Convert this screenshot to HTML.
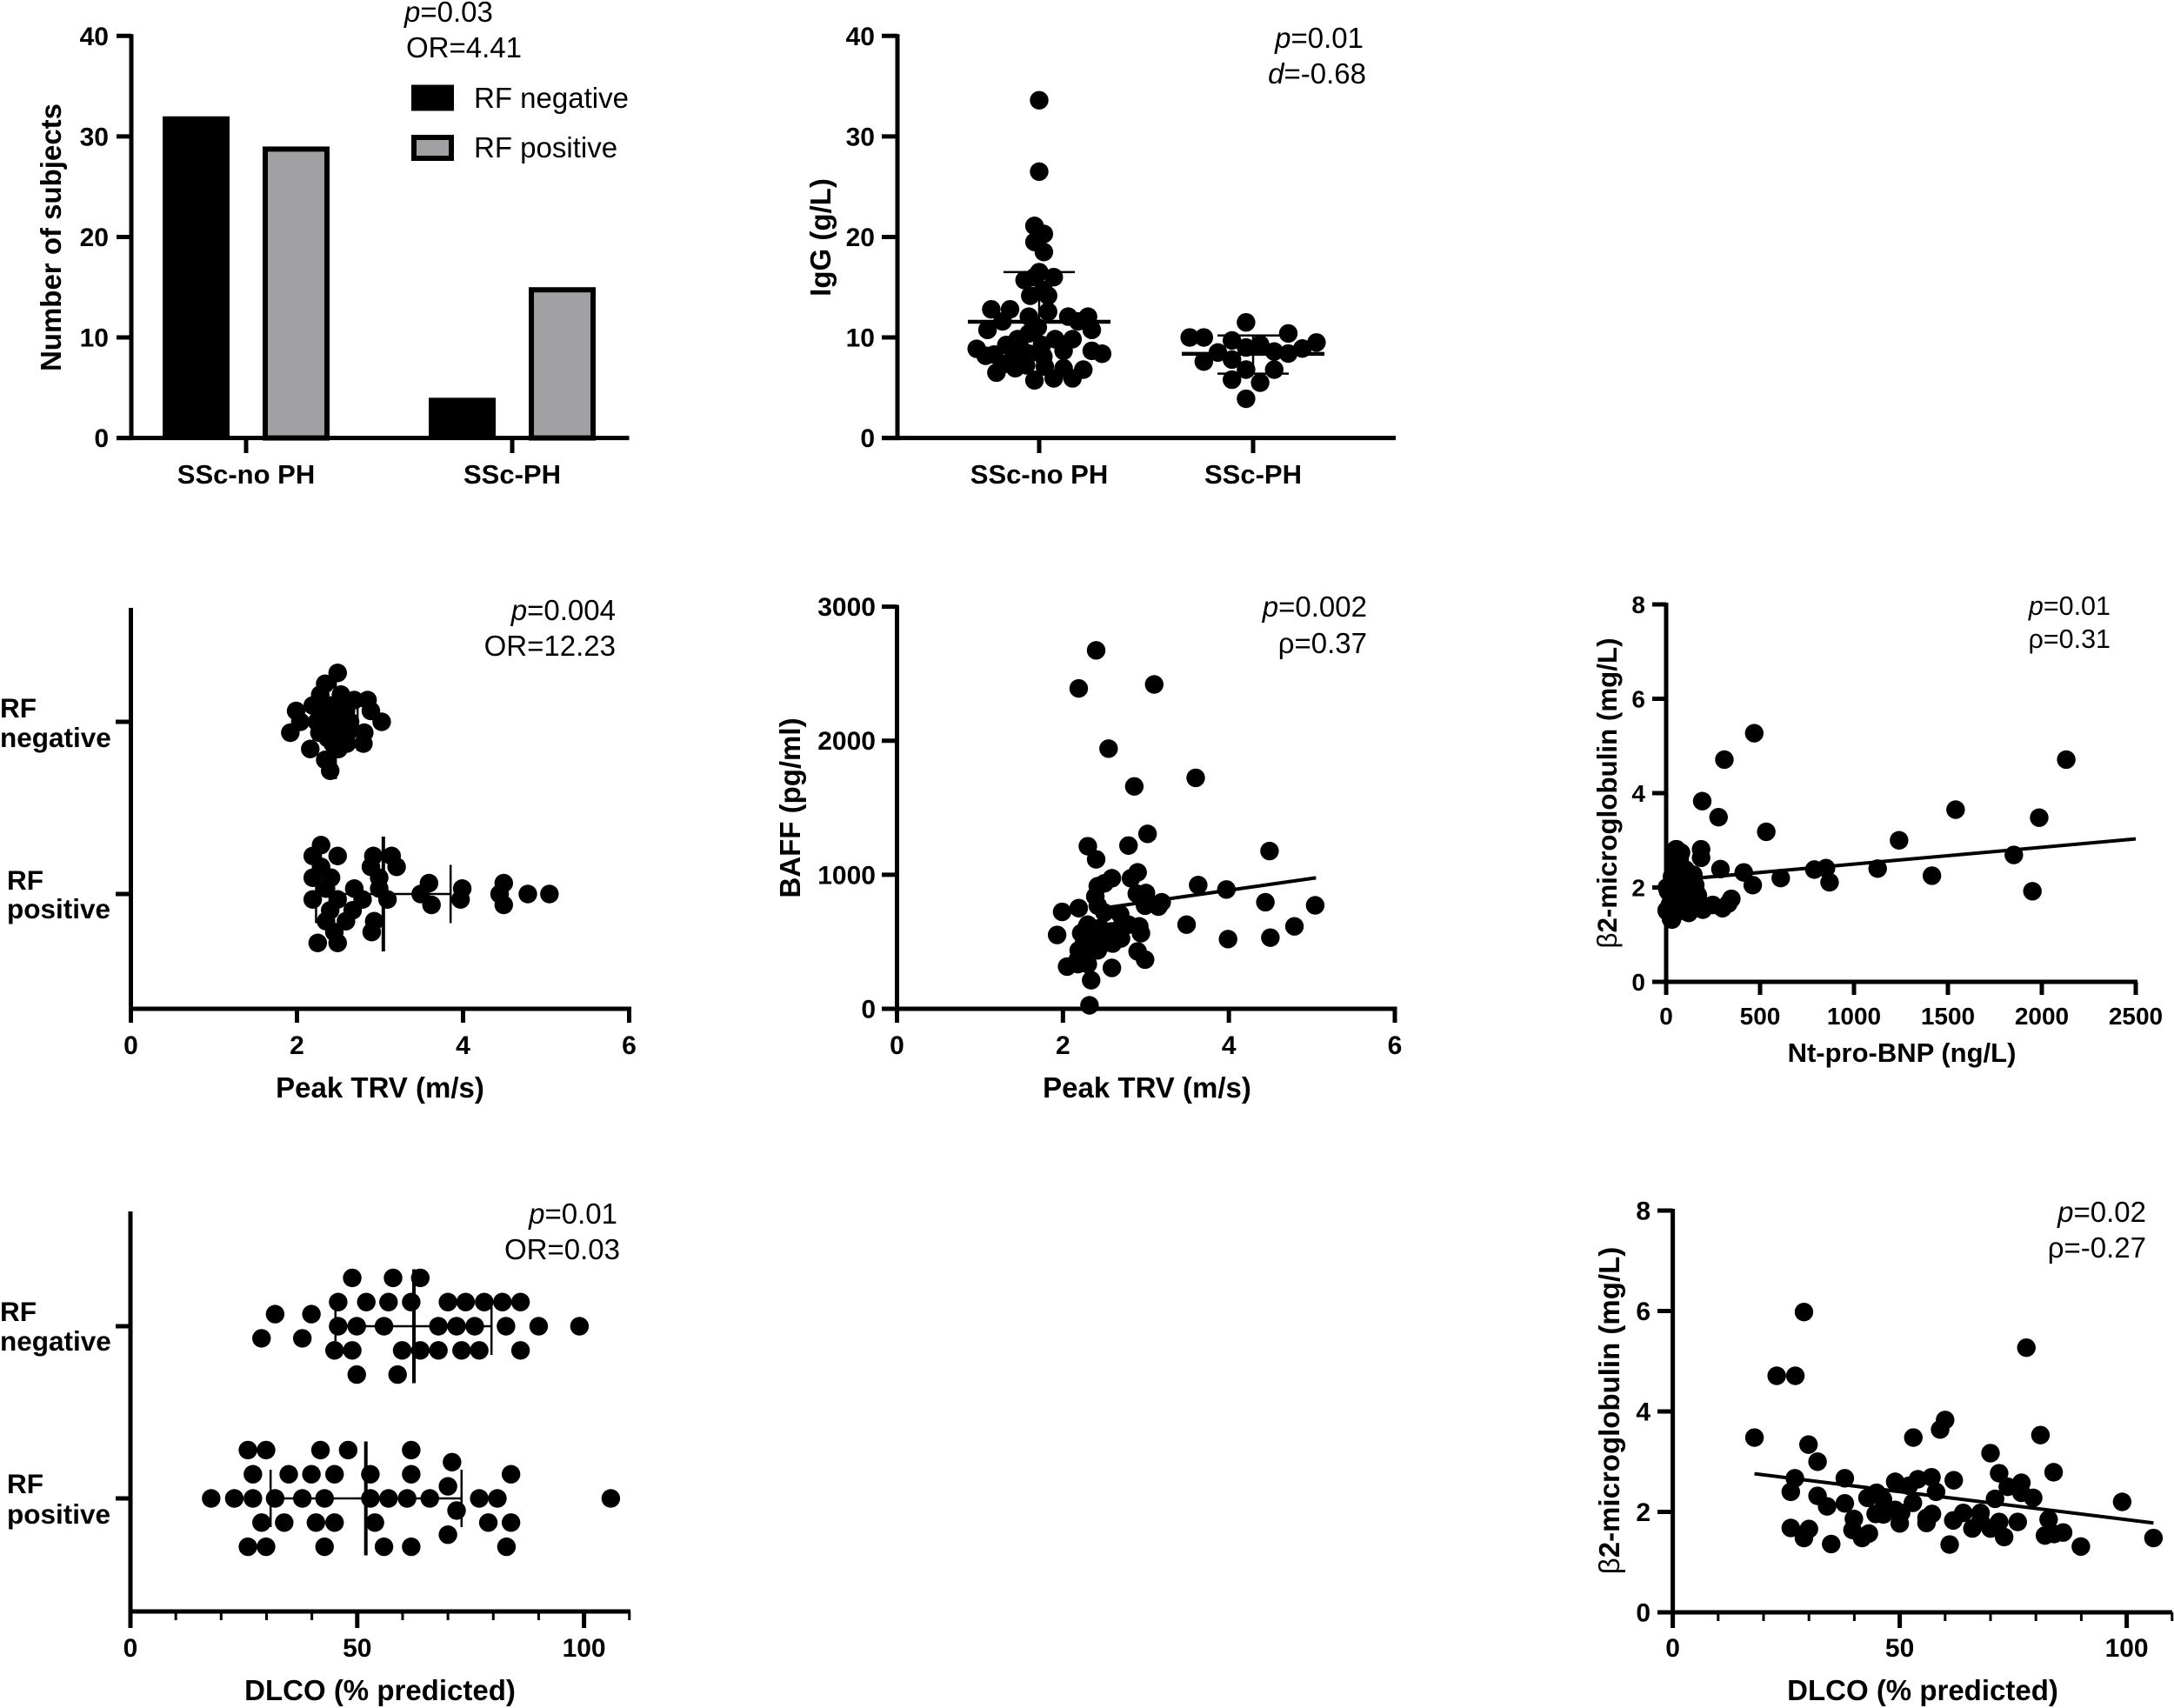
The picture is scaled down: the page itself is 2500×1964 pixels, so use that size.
<!DOCTYPE html>
<html lang="en">
<head>
<meta charset="utf-8">
<title>RF and SSc-PH figure</title>
<style>
html,body{margin:0;padding:0;background:#fff;}
svg{display:block;font-family:"Liberation Sans",Arial,sans-serif;fill:#000;}
.note{font-size:33px;}
.note5{font-size:30.5px;}
.title{font-size:33px;font-weight:bold;}
.cat{font-size:31.5px;font-weight:bold;}
.tick{font-size:30px;font-weight:bold;}
</style>
</head>
<body>
<svg id="figure" xmlns="http://www.w3.org/2000/svg" width="2500" height="1964" viewBox="0 0 2500 1964">
  <g id="static-text">
    <text class="note" x="465" y="25"><tspan font-style="italic">p</tspan>=0.03</text>
    <text class="note" x="467" y="66">OR=4.41</text>
    <text class="note" x="545" y="124">RF negative</text>
    <text class="note" x="545" y="181">RF positive</text>
    <text class="title" transform="translate(70,273) rotate(-90)" text-anchor="middle">Number of subjects</text>

    <text class="note" x="1568" y="55" text-anchor="end"><tspan font-style="italic">p</tspan>=0.01</text>
    <text class="note" x="1571" y="96" text-anchor="end"><tspan font-style="italic">d</tspan>=-0.68</text>
    <text class="title" transform="translate(955,273) rotate(-90)" text-anchor="middle">IgG (g/L)</text>

    <text class="note" x="708" y="713" text-anchor="end"><tspan font-style="italic">p</tspan>=0.004</text>
    <text class="note" x="708" y="754" text-anchor="end">OR=12.23</text>
    <text class="cat" x="0" y="825">RF</text>
    <text class="cat" x="0" y="859">negative</text>
    <text class="cat" x="8" y="1023">RF</text>
    <text class="cat" x="8" y="1056">positive</text>
    <text class="title" x="437" y="1262" text-anchor="middle">Peak TRV (m/s)</text>

    <text class="note" x="1572" y="709" text-anchor="end"><tspan font-style="italic">p</tspan>=0.002</text>
    <text class="note" x="1572" y="751" text-anchor="end">ρ=0.37</text>
    <text class="title" transform="translate(920,929) rotate(-90)" text-anchor="middle">BAFF (pg/ml)</text>
    <text class="title" x="1319" y="1262" text-anchor="middle">Peak TRV (m/s)</text>

    <text class="note5" x="2427" y="707" text-anchor="end"><tspan font-style="italic">p</tspan>=0.01</text>
    <text class="note5" x="2427" y="745" text-anchor="end">ρ=0.31</text>
    <text class="title" style="font-size:31.3px" transform="translate(1859,912) rotate(-90)" text-anchor="middle"><tspan font-weight="normal">β</tspan>2-microglobulin (mg/L)</text>
    <text class="title" style="font-size:31px" x="2187" y="1221" text-anchor="middle">Nt-pro-BNP (ng/L)</text>

    <text class="note" x="710" y="1407" text-anchor="end"><tspan font-style="italic">p</tspan>=0.01</text>
    <text class="note" x="713" y="1448" text-anchor="end">OR=0.03</text>
    <text class="cat" x="0" y="1519">RF</text>
    <text class="cat" x="0" y="1553">negative</text>
    <text class="cat" x="8" y="1717">RF</text>
    <text class="cat" x="8" y="1752">positive</text>
    <text class="title" x="437" y="1955" text-anchor="middle">DLCO (% predicted)</text>

    <text class="note" x="2468" y="1405" text-anchor="end"><tspan font-style="italic">p</tspan>=0.02</text>
    <text class="note" x="2468" y="1446" text-anchor="end">ρ=-0.27</text>
    <text class="title" transform="translate(1862,1622) rotate(-90)" text-anchor="middle"><tspan font-weight="normal">β</tspan>2-microglobulin (mg/L)</text>
    <text class="title" x="2211" y="1955" text-anchor="middle">DLCO (% predicted)</text>
  </g>
</svg>
<script>
// ---------- Panel A: bars ----------
const barCategories = ['SSc-no PH', 'SSc-PH'];
const barNegativeCounts = [32, 4];
const barPositiveCounts = [29, 15];
const barYTicks = [0, 10, 20, 30, 40];

// ---------- Panel B: IgG swarm ----------
const iggCategories = ['SSc-no PH', 'SSc-PH'];
const iggYTicks = [0, 10, 20, 30, 40];
const iggNoPhValues = [33.6,26.5,21.1,20.3,19.5,18.5,16.5,16.0,15.7,16.0,14.15,14.15,14.75,12.8,12.8,12.07,12.56,12.07,12.07,10.75,10.75,8.87,8.18,8.67,8.38,6.5,6.94,6.8,5.73,5.93,5.93,9.25,9.83,10.4,11,8.96,8.38,8.38,8.1,9.25,9.83,9.83,8.67,6.94,7.1,7.23,7.4,8.3,11.6,11.6];
const iggNoPhLanes  = [0,0,-1,1,-1,1,0,3.1,-3.1,-1,-1.9,1.9,0.9,-10.2,-6.2,-2.2,1.9,6.2,10.4,-11,11.2,-13.3,-11.4,11.2,13.4,-9.1,-5.1,9.4,-1,3.1,7.1,-7,-4.6,-2.2,-0.3,-4,-5.2,-2.2,0.9,0.6,3.4,7.1,5.2,5.2,1.2,-2.8,-7.1,-9.6,8.3,-7.8];
const iggPhValues = [11.5,10.4,10,10,9.7,9.5,9.3,8.9,9,8.5,8.6,8.4,7.8,7.6,6.8,6.8,5.8,5.5,3.9];
const iggPhLanes  = [-1.5,7.5,-13.5,-10.5,-4.5,13.5,1.5,10.5,-1.5,-7.5,4.5,7.5,-4.5,-10.5,-1.5,4.5,-4.5,1.5,-1.5];
const iggMeans = [11.56, 8.37];
const iggSdLow = [6.6, 6.4];
const iggSdHigh = [16.5, 10.2];

// ---------- Panel C: Peak TRV swarm ----------
const trvXTicks = [0, 2, 4, 6];
const trvNegValues = [2.49,2.34,2.53,2.28,2.69,2.85,2.19,2.41,1.99,2.89,2.35,2.59,2.04,3.02,2.24,2.43,2.64,2.35,1.92,2.81,2.27,2.49,2.61,2.37,2.6,2.8,2.43,2.16,2.34,2.4,2.46,2.5];
const trvNegLanes  = [-9,-7,-5,-5,-4,-4,-3,-3,-2,-2,-2,-2,0,0,0,0,0,-1,2,2,2,2,2,3,4,4,4,5,7,9,-2,5];
const trvPosValues = [2.29,2.19,2.49,2.92,3.14,2.29,2.89,3.2,2.19,2.41,2.99,3.59,2.35,2.69,2.99,3.99,4.49,2.19,2.49,2.79,3.09,3.49,3.97,4.44,4.78,5.04,3.62,4.49,2.4,2.67,2.35,2.59,2.93,2.45,2.9,2.25,2.49];
const trvPosLanes  = [-9,-7,-7,-7,-7,-5,-5,-5,-3,-3,-3,-2,-1,-1,-1,-1,-2,1,1,1,1,0,1,0,0,0,2,2,3,3,5,5,5,7,7,9,9];
const trvMeans = [2.46, 3.04];
const trvSdLow = [2.2, 2.23];
const trvSdHigh = [2.73, 3.85];

// ---------- Panel D: BAFF vs TRV ----------
const baffXTicks = [0, 2, 4, 6];
const baffYTicks = [0, 1000, 2000, 3000];
const baffTrv = [2.40,2.19,3.10,2.55,3.6,2.86,3.02,2.3,2.79,2.4,4.49,2.9,2.59,2.82,2.5,2.42,2.39,3,2.89,3.63,3.97,3.19,3.15,2.99,2.42,1.99,2.19,2.5,2.69,4.44,5.04,3.49,4.79,3.99,4.5,1.93,2.92,2.94,2.79,2.3,2.22,2.34,2.45,2.58,2.69,2.7,2.6,2.47,2.42,2.19,2.31,2.9,2.99,2.05,2.18,2.3,2.26,2.59,2.34,2.32,2.256,2.395,2.53,2.675,2.29,2.6,2.22,2.36,2.29,2.18,2.46,2.256];
const baffValues = [2674,2390,2420,1941,1723,1659,1305,1213,1218,1115,1177,1018,974,974,936,915,838,864,859,923,890,795,762,769,769,723,751,718,705,795,772,628,615,520,531,551,615,564,628,628,564,538,603,577,603,525,487,525,436,436,474,428,367,315,333,333,410,305,213,26,563,563,563,563,616,497,443,433,346,368,476,497];
const baffFitX = [2.55, 5.05];
const baffFitY = [757, 977];

// ---------- Panel E: b2m vs NT-proBNP ----------
const bnpXTicks = [0, 500, 1000, 1500, 2000, 2500];
const bnpYTicks = [0, 2, 4, 6, 8];
const bnpValues = [469,310,2130,192,279,533,1541,1986,1240,1851,186,186,289,413,789,851,1126,1415,610,461,870,1950,347,331,300,248,196,120,169,155,145,52,79,52,72,48,103,4,31,4,31,52,83,124,103,62,124,83,41,145,72,31,21,55,72,65,134,150,165,10,72,3,26,119,72,134,103,42,195];
const bnpB2m = [5.27,4.71,4.71,3.83,3.49,3.18,3.65,3.48,3.0,2.69,2.81,2.63,2.39,2.32,2.38,2.41,2.4,2.25,2.2,2.05,2.11,1.92,1.76,1.66,1.56,1.63,1.54,1.46,1.83,2.05,2.27,2.81,2.74,2.63,2.52,2.38,2.38,2.0,1.9,1.5,1.32,1.46,1.65,1.72,1.94,2.08,2.16,2.23,1.72,1.87,1.87,2.23,1.65,2.81,2.62,2.38,2.23,2.04,1.86,1.92,1.89,1.52,1.33,1.52,1.64,1.77,2.07,2.13,1.53];
const bnpFitX = [0, 2500];
const bnpFitY = [2.14, 3.03];

// ---------- Panel F: DLCO swarm ----------
const dlcoXTicks = [0, 50, 100];
const dlcoMinorTicks = [10, 20, 30, 40, 60, 70, 80, 90, 110];
const dlcoNegValues = [48.9,57.9,63.9,45.8,52,56.9,61.9,70,73.9,78,82,86,31.9,39.9,45.8,49.9,55.9,67.9,71.9,75.9,82.8,90,99,28.9,37.9,45,48.9,59.9,63.9,67.9,73,76.9,86,49.9,58.9];
const dlcoNegLanes  = [-4,-4,-4,-2,-2,-2,-2,-2,-2,-2,-2,-2,-1,-1,0,0,0,0,0,0,0,0,0,1,1,2,2,2,2,2,2,2,2,4,4];
const dlcoPosValues = [25.9,29.9,41.9,48,61.9,70.9,27,34.9,39.9,45,52.9,61.9,83.9,70,17.8,22.9,27,31.9,37.9,42.8,52.9,56.9,61,66,76.9,80.9,105.9,71.9,28.9,33.9,40.9,45,53.9,78.9,83.9,70,25.9,29.9,42.8,55.9,61.9,82.9];
const dlcoPosLanes  = [-4,-4,-4,-4,-4,-3,-2,-2,-2,-2,-2,-2,-2,-1,0,0,0,0,0,0,0,0,0,0,0,0,0,1,2,2,2,2,2,2,2,3,4,4,4,4,4,4];
const dlcoMeans = [62.5, 51.9];
const dlcoSdLow = [45.2, 30.9];
const dlcoSdHigh = [79.6, 73];

// ---------- Panel G: b2m vs DLCO ----------
const b2mDlcoXTicks = [0, 50, 100];
const b2mDlcoMinorTicks = [10, 20, 30, 40, 60, 70, 80, 90, 110];
const b2mDlcoYTicks = [0, 2, 4, 6, 8];
const b2mDlcoX = [28.9,22.9,27,77.9,18,60,58.9,53,81,29.9,31.9,70,71.9,83.9,26.9,37.9,49,54,57,61.9,52,76.8,73.8,26,44.9,58,31.9,42.9,46.3,71,76.8,79.4,52.9,37.9,34,49,44.7,46.4,50.3,57.1,55.9,64,67.8,61.8,55.9,50,39.9,39.6,67.8,71.9,76,82.8,26,30,66,70,28.9,34.9,41.7,43.2,61,73,82,84,86,89.9,99,105.9];
const b2mDlcoY = [5.98,4.71,4.71,5.27,3.48,3.83,3.64,3.48,3.53,3.34,3.0,3.17,2.77,2.79,2.67,2.67,2.6,2.65,2.69,2.63,2.52,2.58,2.5,2.4,2.38,2.4,2.32,2.28,2.25,2.26,2.38,2.28,2.18,2.17,2.11,2.04,1.96,1.95,1.98,1.96,1.88,1.98,1.98,1.83,1.78,1.77,1.86,1.64,1.82,1.8,1.8,1.85,1.68,1.66,1.67,1.67,1.48,1.36,1.48,1.57,1.35,1.5,1.53,1.56,1.59,1.31,2.2,1.48];
const b2mDlcoFitX = [18, 105.9];
const b2mDlcoFitY = [2.76, 1.78];

// ---------- Drawing helpers ----------
const SVGNS = 'http://www.w3.org/2000/svg';
const root = document.getElementById('figure');
const DOT_R = 10.7;
const AXIS_W = 5;

function linear(d0, d1, r0, r1) {
  return function (v) { return r0 + (v - d0) * (r1 - r0) / (d1 - d0); };
}
function mk(tag, attrs, parent) {
  const el = document.createElementNS(SVGNS, tag);
  Object.keys(attrs).forEach(function (k) { el.setAttribute(k, attrs[k]); });
  (parent || root).appendChild(el);
  return el;
}
function panel(name) {
  const g = mk('g', {});
  
  
  return g;
}
function line(g, x1, y1, x2, y2, w, name) {
  const el = mk('line', { x1: x1, y1: y1, x2: x2, y2: y2, stroke: '#000', 'stroke-width': w }, g);
  
  
  return el;
}
function label(g, x, y, str, anchor, size, name) {
  const el = mk('text', { x: x, y: y, 'text-anchor': anchor, 'font-size': size, 'font-weight': 'bold' }, g);
  el.textContent = str;
  
  
  return el;
}
function dot(g, cx, cy, name) {
  const el = mk('circle', { cx: cx, cy: cy, r: DOT_R, fill: '#000' }, g);
  
  
  return el;
}
function yAxis(g, sx, sy, ticks, leftX, labelX, size, topV) {
  line(g, sx, sy(topV) - 2, sx, sy(0) + 2.5, AXIS_W, 'y-axis-line');
  ticks.forEach(function (t) {
    line(g, leftX, sy(t), sx, sy(t), AXIS_W, 'y-tick-' + t);
    label(g, labelX, sy(t) + size * 0.35, String(t), 'end', size, 'y-tick-label-' + t);
  });
}
function xAxis(g, axisY, left, right, sx, ticks, tickBottom, labelY, size) {
  line(g, left, axisY, right, axisY, AXIS_W, 'x-axis-line');
  ticks.forEach(function (t) {
    line(g, sx(t), axisY, sx(t), tickBottom, AXIS_W, 'x-tick-' + t);
    label(g, sx(t), labelY, String(t), 'middle', size, 'x-tick-label-' + t);
  });
}

// ---------- Panel A ----------
(function () {
  const g = panel('rf-subject-bar-chart');
  const y = linear(0, 40, 503.6, 41.3);
  const GROUP_X = [283, 589];
  const BAR_W = 77;
  const OFFSET = 57.5;
  barCategories.forEach(function (c, i) {
    const n = barNegativeCounts[i];
    const p = barPositiveCounts[i];
    const bn = mk('rect', { x: GROUP_X[i] - OFFSET - BAR_W / 2, y: y(n), width: BAR_W, height: y(0) - y(n), fill: '#000' }, g);
    
    
    const bp = mk('rect', { x: GROUP_X[i] + OFFSET - BAR_W / 2 + 3, y: y(p) + 3, width: BAR_W - 6, height: y(0) - y(p) - 3, fill: '#a1a1a4', stroke: '#000', 'stroke-width': 6 }, g);
    
    
    line(g, GROUP_X[i], 503.6, GROUP_X[i], 521, AXIS_W, 'x-tick-' + i);
    label(g, GROUP_X[i], 556, c, 'middle', 31, 'x-tick-label-' + i);
  });
  yAxis(g, 151, y, barYTicks, 134, 125, 30, 40);
  line(g, 134, 503.6, 723.5, 503.6, AXIS_W, 'x-axis-line');
  const l1 = mk('rect', { x: 473, y: 97.5, width: 49, height: 30, fill: '#000' }, g);
  
  
  const l2 = mk('rect', { x: 476, y: 158, width: 43, height: 24, fill: '#a1a1a4', stroke: '#000', 'stroke-width': 6 }, g);
  
  
})();

// ---------- Panel B ----------
(function () {
  const g = panel('igg-swarm-plot');
  const y = linear(0, 40, 503.6, 41.3);
  const CENTER = [1195, 1441];
  const LANE = 5.4;
  [[iggNoPhValues, iggNoPhLanes], [iggPhValues, iggPhLanes]].forEach(function (s, i) {
    s[0].forEach(function (v, k) {
      dot(g, CENTER[i] + s[1][k] * LANE, y(v), 'igg-dot-' + i + '-' + k);
    });
    line(g, CENTER[i], y(iggSdLow[i]), CENTER[i], y(iggSdHigh[i]), 2.5, 'igg-sd-stem-' + i);
    line(g, CENTER[i] - 41, y(iggSdLow[i]), CENTER[i] + 41, y(iggSdLow[i]), 2.5, 'igg-sd-low-' + i);
    line(g, CENTER[i] - 41, y(iggSdHigh[i]), CENTER[i] + 41, y(iggSdHigh[i]), 2.5, 'igg-sd-high-' + i);
    line(g, CENTER[i] - 82, y(iggMeans[i]), CENTER[i] + 82, y(iggMeans[i]), 4.5, 'igg-mean-' + i);
    line(g, CENTER[i], 503.6, CENTER[i], 521, AXIS_W, 'x-tick-' + i);
    label(g, CENTER[i], 556, iggCategories[i], 'middle', 31, 'x-tick-label-' + i);
  });
  yAxis(g, 1032, y, iggYTicks, 1014, 1006, 30, 40);
  line(g, 1014, 503.6, 1605, 503.6, AXIS_W, 'x-axis-line');
})();

function swarmPanel(g, x, sets, means, low, high, rowY, lane, meanHalf, sdHalf, prefix) {
  sets.forEach(function (s, i) {
    s[0].forEach(function (v, k) {
      dot(g, x(v), rowY[i] + s[1][k] * lane, prefix + '-dot-' + i + '-' + k);
    });
    line(g, x(low[i]), rowY[i], x(high[i]), rowY[i], 2.5, prefix + '-sd-bar-' + i);
    line(g, x(low[i]), rowY[i] - sdHalf, x(low[i]), rowY[i] + sdHalf, 2.5, prefix + '-sd-low-' + i);
    line(g, x(high[i]), rowY[i] - sdHalf, x(high[i]), rowY[i] + sdHalf, 2.5, prefix + '-sd-high-' + i);
    line(g, x(means[i]), rowY[i] - meanHalf, x(means[i]), rowY[i] + meanHalf, 4, prefix + '-mean-' + i);
    line(g, 133, rowY[i], 150, rowY[i], AXIS_W, prefix + '-category-tick-' + i);
  });
}

// ---------- Panel C ----------
(function () {
  const g = panel('peak-trv-swarm-plot');
  const x = linear(0, 6, 150.5, 723.5);
  swarmPanel(g, x, [[trvNegValues, trvNegLanes], [trvPosValues, trvPosLanes]], trvMeans, trvSdLow, trvSdHigh, [830, 1028], 6.25, 66, 33.5, 'trv');
  line(g, 150.5, 699, 150.5, 1162, AXIS_W, 'y-axis-line');
  xAxis(g, 1160, 148, 726, x, trvXTicks, 1176, 1212, 30);
})();

// ---------- Panel D ----------
(function () {
  const g = panel('baff-vs-trv-scatter');
  const x = linear(0, 6, 1031.5, 1604);
  const y = linear(0, 3000, 1160, 697.6);
  baffTrv.forEach(function (v, k) {
    dot(g, x(v), y(baffValues[k]), 'baff-dot-' + k);
  });
  line(g, x(baffFitX[0]), y(baffFitY[0]), x(baffFitX[1]), y(baffFitY[1]), 4, 'baff-fit-line');
  yAxis(g, 1031.5, y, baffYTicks, 1014, 1007, 30, 3000);
  xAxis(g, 1160, 1029, 1606.5, x, baffXTicks, 1176, 1212, 30);
})();

// ---------- Panel E ----------
(function () {
  const g = panel('b2m-vs-bnp-scatter');
  const x = linear(0, 2500, 1916, 2456);
  const y = linear(0, 8, 1129, 695);
  bnpValues.forEach(function (v, k) {
    dot(g, x(v), y(bnpB2m[k]), 'bnp-dot-' + k);
  });
  line(g, x(bnpFitX[0]), y(bnpFitY[0]), x(bnpFitX[1]), y(bnpFitY[1]), 4, 'bnp-fit-line');
  yAxis(g, 1916, y, bnpYTicks, 1900, 1892, 28, 8);
  xAxis(g, 1129, 1900, 2458, x, bnpXTicks, 1144, 1178, 28);
})();

// ---------- Panel F ----------
(function () {
  const g = panel('dlco-swarm-plot');
  const x = linear(0, 100, 150, 671.6);
  swarmPanel(g, x, [[dlcoNegValues, dlcoNegLanes], [dlcoPosValues, dlcoPosLanes]], dlcoMeans, dlcoSdLow, dlcoSdHigh, [1525, 1723], 13.9, 65.5, 33, 'dlco');
  line(g, 150, 1393, 150, 1855, AXIS_W, 'y-axis-line');
  xAxis(g, 1853, 148, 725, x, dlcoXTicks, 1872, 1905, 30);
  dlcoMinorTicks.forEach(function (t) {
    line(g, x(t), 1853, x(t), 1863, 3, 'x-minor-tick-' + t);
  });
})();

// ---------- Panel G ----------
(function () {
  const g = panel('b2m-vs-dlco-scatter');
  const x = linear(0, 100, 1923.6, 2445.6);
  const y = linear(0, 8, 1854, 1392);
  b2mDlcoX.forEach(function (v, k) {
    dot(g, x(v), y(b2mDlcoY[k]), 'b2m-dlco-dot-' + k);
  });
  line(g, x(b2mDlcoFitX[0]), y(b2mDlcoFitY[0]), x(b2mDlcoFitX[1]), y(b2mDlcoFitY[1]), 4, 'b2m-dlco-fit-line');
  yAxis(g, 1923.6, y, b2mDlcoYTicks, 1906, 1898, 30, 8);
  xAxis(g, 1854, 1906, 2498, x, b2mDlcoXTicks, 1872, 1905, 30);
  b2mDlcoMinorTicks.forEach(function (t) {
    line(g, x(t), 1854, x(t), 1864, 3, 'x-minor-tick-' + t);
  });
})();
</script>
</body>
</html>
